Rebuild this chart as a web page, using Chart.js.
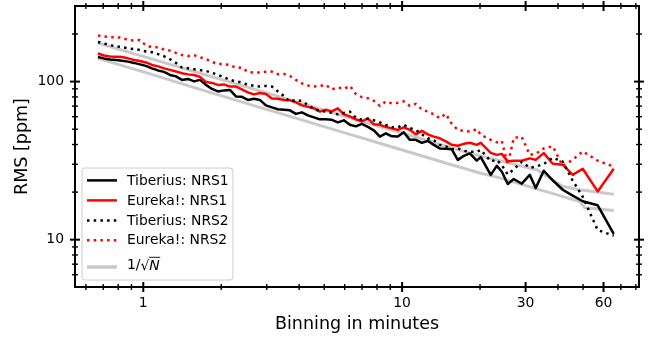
<!DOCTYPE html>
<html><head><meta charset="utf-8">
<script src="https://cdn.jsdelivr.net/npm/chart.js@4.4.1/dist/chart.umd.min.js"></script>
<style>html,body{margin:0;padding:0;background:#fff;}</style>
</head><body>
<canvas id="c" width="655" height="338" style="display:block;width:655px;height:338px"></canvas>
<script>
// ---- data ----
const binMinutes = [0.668,0.705,0.744,0.785,0.828,0.873,0.921,0.971,1.024,1.080,1.140,1.202,1.268,1.338,1.411,1.488,1.570,1.656,1.746,1.842,1.943,2.049,2.161,2.280,2.405,2.536,2.675,2.822,2.977,3.140,3.312,3.493,3.685,3.887,4.100,4.324,4.561,4.811,5.075,5.353,5.646,5.956,6.282,6.626,6.989,7.372,7.777,8.203,8.652,9.126,9.625,10.15,10.71,11.30,11.92,12.57,13.26,13.98,14.75,15.56,16.41,17.31,18.26,19.43,20.13,22.00,23.21,24.26,25.59,27.00,28.99,31.13,32.82,35.25,38.19,41.74,45.62,49.86,56.96,65.70];
const tiberiusNrs1 = [143.2,140.2,138.1,137.1,135.7,133.8,131.3,128.5,125.7,121.2,117.7,115.2,110.2,107.9,102.5,104.0,100.3,102.5,95.3,89.9,86.7,88.0,88.6,80.6,80.1,76.6,77.8,76.6,70.7,68.7,66.9,66.3,65.8,62.5,63.9,61.2,59.4,57.7,57.7,57.3,55.2,56.9,53.3,52.1,54.1,51.7,49.2,44.9,47.1,45.1,44.9,47.8,42.8,42.8,41.0,42.2,39.8,37.8,37.6,37.3,32.0,33.9,35.2,31.6,33.3,25.7,29.3,27.0,22.5,24.2,22.6,25.7,21.2,27.3,23.7,20.7,19.0,17.5,16.5,10.9];
const eurekaNrs1 = [150.7,146.4,144.3,143.8,143.2,140.2,137.1,135.1,132.2,127.5,124.8,121.2,118.6,116.0,113.0,111.1,110.2,107.1,99.6,98.1,95.3,96.0,93.0,93.0,89.3,85.5,83.0,84.8,83.6,78.3,77.8,76.6,76.1,73.9,70.7,69.2,67.7,64.6,66.3,64.8,67.7,62.1,60.3,57.7,56.1,58.6,53.7,53.3,51.7,50.6,49.5,51.4,49.5,46.4,48.8,46.4,44.9,43.8,41.9,39.8,39.3,40.4,41.0,39.8,41.0,35.4,34.4,34.9,31.3,31.6,31.6,32.7,32.0,35.3,30.2,29.8,25.7,28.1,20.2,28.1];
const tiberiusNrs2 = [178.2,174.3,169.8,167.6,164.9,162.6,160.4,158.6,155.2,153.4,149.2,144.7,138.5,131.3,122.6,121.5,119.8,118.2,116.8,113.8,110.2,106.6,102.5,100.3,98.6,95.3,94.2,93.0,93.9,93.0,86.7,81.2,74.8,76.6,75.2,71.2,67.2,65.3,64.6,63.4,62.1,63.4,64.6,59.0,57.5,58.1,56.9,55.2,53.3,51.4,51.4,53.3,50.8,49.5,46.4,43.8,42.5,39.8,39.0,37.3,37.8,36.5,36.0,36.0,37.0,31.3,32.0,29.6,25.9,27.9,31.1,28.5,29.0,30.1,33.0,31.2,23.6,18.7,11.5,10.6];
const eurekaNrs2 = [195.8,193.0,190.8,190.8,189.4,183.4,182.1,183.4,169.3,164.9,164.9,159.7,157.0,151.8,147.4,145.3,147.0,142.6,139.1,133.2,129.4,129.0,127.5,122.1,122.9,115.2,114.0,114.0,115.5,115.7,111.4,111.9,108.6,102.5,97.4,94.6,93.0,93.9,95.3,89.3,91.9,89.9,93.9,83.6,79.7,78.6,75.5,70.2,74.8,72.8,73.4,75.0,70.2,72.3,66.7,64.6,62.1,58.7,62.5,54.1,49.5,48.8,48.3,50.0,46.1,42.8,41.3,42.2,29.8,44.1,44.7,34.4,34.9,37.8,39.0,29.3,32.0,36.2,31.6,29.0];
// 1/sqrt(N) reference curves (two scalings)
const sqrtNLowX  = [0.668,1.061,1.656,2.582,4.027,6.282,9.797,15.29,19.95,23.84,31.13,40.64,48.54,50.75,65.70];
const sqrtNLowY  = [140.2,111.9,89.3,71.8,57.7,46.4,37.3,30.0,26.4,24.6,21.6,19.0,17.4,15.9,15.3];
const sqrtNHighX = [0.668,1.061,1.656,2.582,4.027,6.282,9.797,15.29,18.26,23.84,33.12,37.19,41.74,48.54,65.70];
const sqrtNHighY = [175.6,140.2,113.0,91.3,73.4,59.0,47.8,38.4,35.3,31.6,27.7,24.6,21.7,20.7,19.4];
// axis ticks
const xMajorTicks = [1, 10, 30, 60];
const xMinorTicks = [0.6,0.7,0.8,0.9,2,3,4,5,6,7,8,9,20,40,50,70,80];
const yMajorTicks = [10, 100];
const yMinorTicks = [6,7,8,9,20,30,40,50,60,70,80,90,200];
const seriesLabels = ['Tiberius: NRS1','Eureka!: NRS1','Tiberius: NRS2','Eureka!: NRS2'];

const pts = (xs, ys) => xs.map((x, i) => ({x, y: ys[i]}));
const GREY = '#c9c9c9';
const DOT = [2.5, 4.2];

Chart.defaults.font.family = "'DejaVu Sans', sans-serif";
Chart.defaults.color = '#000';

const styles = [
  {borderColor:'#000000', borderWidth:2.5, borderDash:[]},
  {borderColor:'#ff0000', borderWidth:2.5, borderDash:[]},
  {borderColor:'#000000', borderWidth:2.5, borderDash:DOT},
  {borderColor:'#ff0000', borderWidth:2.5, borderDash:DOT},
  {borderColor:GREY, borderWidth:3, borderDash:[]}
];

const datasets = [
  Object.assign({label:'1/sqrt(N) low', data: pts(sqrtNLowX, sqrtNLowY), order: 10}, styles[4]),
  Object.assign({label:'1/sqrt(N) high', data: pts(sqrtNHighX, sqrtNHighY), order: 10}, styles[4]),
  Object.assign({label:seriesLabels[0], data: pts(binMinutes, tiberiusNrs1), order: 4}, styles[0]),
  Object.assign({label:seriesLabels[1], data: pts(binMinutes, eurekaNrs1), order: 3}, styles[1]),
  Object.assign({label:seriesLabels[2], data: pts(binMinutes, tiberiusNrs2), order: 2}, styles[2]),
  Object.assign({label:seriesLabels[3], data: pts(binMinutes, eurekaNrs2), order: 1}, styles[3])
];

function roundRectPath(ctx, x, y, w, h, r) {
  ctx.beginPath();
  ctx.moveTo(x + r, y);
  ctx.lineTo(x + w - r, y); ctx.arcTo(x + w, y, x + w, y + r, r);
  ctx.lineTo(x + w, y + h - r); ctx.arcTo(x + w, y + h, x + w - r, y + h, r);
  ctx.lineTo(x + r, y + h); ctx.arcTo(x, y + h, x, y + h - r, r);
  ctx.lineTo(x, y + r); ctx.arcTo(x, y, x + r, y, r);
  ctx.closePath();
}

const decor = {
  id: 'decor',
  afterDatasetsDraw(chart) {
    const {ctx, chartArea: {left, right, top, bottom}, scales: {x, y}} = chart;
    ctx.save();
    // ---- legend ----
    const bx = left + 7, bw = 151, bh = 112, by = bottom - 7 - bh;
    roundRectPath(ctx, bx, by, bw, bh, 3);
    ctx.fillStyle = 'rgba(255,255,255,0.8)';
    ctx.fill();
    ctx.lineWidth = 1;
    ctx.strokeStyle = '#cccccc';
    ctx.stroke();
    const rows = [by + 12.4, by + 32.4, by + 52.4, by + 72.2];
    const sx0 = bx + 5, sx1 = bx + 35, tx = bx + 45;
    ctx.font = "13.9px 'DejaVu Sans'";
    ctx.textBaseline = 'middle';
    ctx.textAlign = 'left';
    for (let i = 0; i < 4; i++) {
      const s = styles[i];
      ctx.strokeStyle = s.borderColor; ctx.lineWidth = s.borderWidth; ctx.setLineDash(s.borderDash);
      ctx.lineCap = 'butt';
      ctx.beginPath(); ctx.moveTo(sx0, rows[i]); ctx.lineTo(sx1, rows[i]); ctx.stroke();
      ctx.setLineDash([]);
      ctx.fillStyle = '#000';
      ctx.fillText(seriesLabels[i], tx, rows[i] + 0.5);
    }
    // 1/sqrt(N) row
    const gy = by + 99;
    ctx.strokeStyle = GREY; ctx.lineWidth = 3.5;
    ctx.beginPath(); ctx.moveTo(sx0, gy); ctx.lineTo(sx1, gy); ctx.stroke();
    const ty = by + 97.5;
    ctx.fillStyle = '#000';
    ctx.fillText('1/', tx, ty);
    const w1 = ctx.measureText('1/').width;
    ctx.fillText('\u221A', tx + w1, ty + 0.5);
    const w2 = ctx.measureText('\u221A').width;
    ctx.font = "italic 13.9px 'DejaVu Sans'";
    ctx.fillText('N', tx + w1 + w2, ty + 1);
    const w3 = ctx.measureText('N').width;
    ctx.strokeStyle = '#000'; ctx.lineWidth = 0.9;
    ctx.beginPath(); ctx.moveTo(tx + w1 + w2 - 0.5, ty - 8.2); ctx.lineTo(tx + w1 + w2 + w3 + 0.5, ty - 8.2); ctx.stroke();

    // ---- ticks (in-out on all four sides) ----
    ctx.strokeStyle = '#000';
    const seg = (x1, y1, x2, y2, w) => { ctx.lineWidth = w; ctx.beginPath(); ctx.moveTo(x1, y1); ctx.lineTo(x2, y2); ctx.stroke(); };
    const xt = (v, h, w) => { const p = x.getPixelForValue(v); seg(p, bottom - h, p, bottom + h, w); seg(p, top - h, p, top + h, w); };
    const yt = (v, h, w) => { const p = y.getPixelForValue(v); seg(left - h, p, left + h, p, w); seg(right - h, p, right + h, p, w); };
    xMinorTicks.forEach(v => xt(v, 3, 1.4));
    yMinorTicks.forEach(v => yt(v, 3, 1.4));
    xMajorTicks.forEach(v => xt(v, 5, 2));
    yMajorTicks.forEach(v => yt(v, 5, 2));
    // ---- frame ----
    ctx.lineWidth = 2;
    ctx.strokeRect(left, top, right - left, bottom - top);
    ctx.restore();
  }
};

new Chart(document.getElementById('c'), {
  type: 'line',
  data: {datasets},
  plugins: [decor],
  options: {
    responsive: false,
    animation: false,
    devicePixelRatio: 1,
    layout: {padding: {left: 0, right: 16, top: 6, bottom: 0}},
    plugins: {legend: {display: false}, tooltip: {enabled: false}},
    elements: {point: {radius: 0}, line: {tension: 0, borderJoinStyle: 'round', borderCapStyle: 'butt', fill: false}},
    scales: {
      x: {
        type: 'logarithmic', position: 'bottom', min: 0.5447, max: 82.26,
        grid: {display: false, drawTicks: false}, border: {display: false},
        ticks: {autoSkip: false, maxRotation: 0, minRotation: 0, padding: 8, color: '#000', font: {size: 13.9},
          callback: (v) => xMajorTicks.includes(v) ? String(v) : ''},
        afterBuildTicks: (s) => { s.ticks = xMajorTicks.concat(xMinorTicks).sort((a, b) => a - b).map(v => ({value: v})); },
        afterFit: (s) => { s.height = 51; s.paddingLeft = 0; s.paddingRight = 0; },
        title: {display: true, text: 'Binning in minutes', color: '#000', font: {size: 17.5}, padding: {top: 0, bottom: 3.5}}
      },
      y: {
        type: 'logarithmic', position: 'left', min: 5.02, max: 300.8,
        grid: {display: false, drawTicks: false}, border: {display: false},
        ticks: {autoSkip: false, padding: 11, color: '#000', font: {size: 13.9},
          callback: (v) => yMajorTicks.includes(v) ? String(v) : ''},
        afterBuildTicks: (s) => { s.ticks = yMajorTicks.concat(yMinorTicks).sort((a, b) => a - b).map(v => ({value: v})); },
        afterFit: (s) => { s.width = 75; s.paddingTop = 0; s.paddingBottom = 0; },
        title: {display: true, text: 'RMS [ppm]', color: '#000', font: {size: 17.5}, padding: {top: 12, bottom: 0}}
      }
    }
  }
});
</script>
</body></html>
